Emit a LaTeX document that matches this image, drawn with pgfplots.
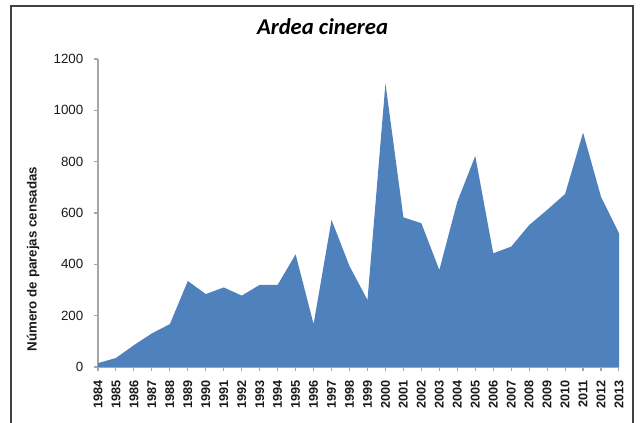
\documentclass[border=0pt]{standalone}
\usepackage{fontspec}
\setmainfont{Liberation Sans}
\newfontfamily\carlito{Carlito}
\usepackage{pgfplots}
\pgfplotsset{compat=1.18}
\definecolor{areablue}{HTML}{4F81BD}
\definecolor{axgray}{HTML}{A6A6A6}
\definecolor{txt}{HTML}{1A1A1A}
\begin{document}
\begin{tikzpicture}
\begin{axis}[
  scale only axis,
  width=390.75pt, height=231pt,
  xmin=1984, xmax=2013,
  ymin=0, ymax=1200,
  axis x line*=bottom, axis y line*=left,
  axis line style={axgray, line width=0.8pt},
  xtick={1984,...,2013},
  ytick={0,200,...,1200},
  tick align=outside,
  major tick length=3pt,
  tick style={axgray, line width=0.8pt},
  /pgf/number format/assume math mode=true,
  /pgf/number format/1000 sep={},
  yticklabel style={font=\fontsize{10}{12}\selectfont, text=txt, xshift=-4.5pt},
  xticklabel style={font=\bfseries\fontsize{9.5}{11}\selectfont, text=txt, rotate=90, anchor=east, xshift=-3.5pt},
  clip=false,
]
\addplot[fill=areablue, draw=none] coordinates {
(1984,15) (1985,35) (1986,85) (1987,131) (1988,167) (1989,335) (1990,284)
(1991,310) (1992,278) (1993,320) (1994,320) (1995,439) (1996,167) (1997,573)
(1998,393) (1999,261) (2000,1105) (2001,583) (2002,560) (2003,378) (2004,644)
(2005,822) (2006,443) (2007,469) (2008,553) (2009,612) (2010,674) (2011,913)
(2012,663) (2013,521)
} \closedcycle;
\end{axis}
\node[font=\carlito\bfseries\itshape\fontsize{17}{20}\selectfont] at (168.4pt,255pt) {Ardea cinerea};
\node[rotate=90, font=\bfseries\fontsize{10}{12}\selectfont, text=txt] at (-48.75pt,81pt) {Número de parejas censadas};
\draw[color=black!75, line width=1.1pt] (-65.25pt,-42pt) -- (-65.25pt,270.75pt) -- (401.25pt,270.75pt) -- (401.25pt,-42pt);
\pgfresetboundingbox
\path[use as bounding box] (-73.5pt,-42pt) rectangle (406.5pt,275.25pt);
\end{tikzpicture}
\end{document}
